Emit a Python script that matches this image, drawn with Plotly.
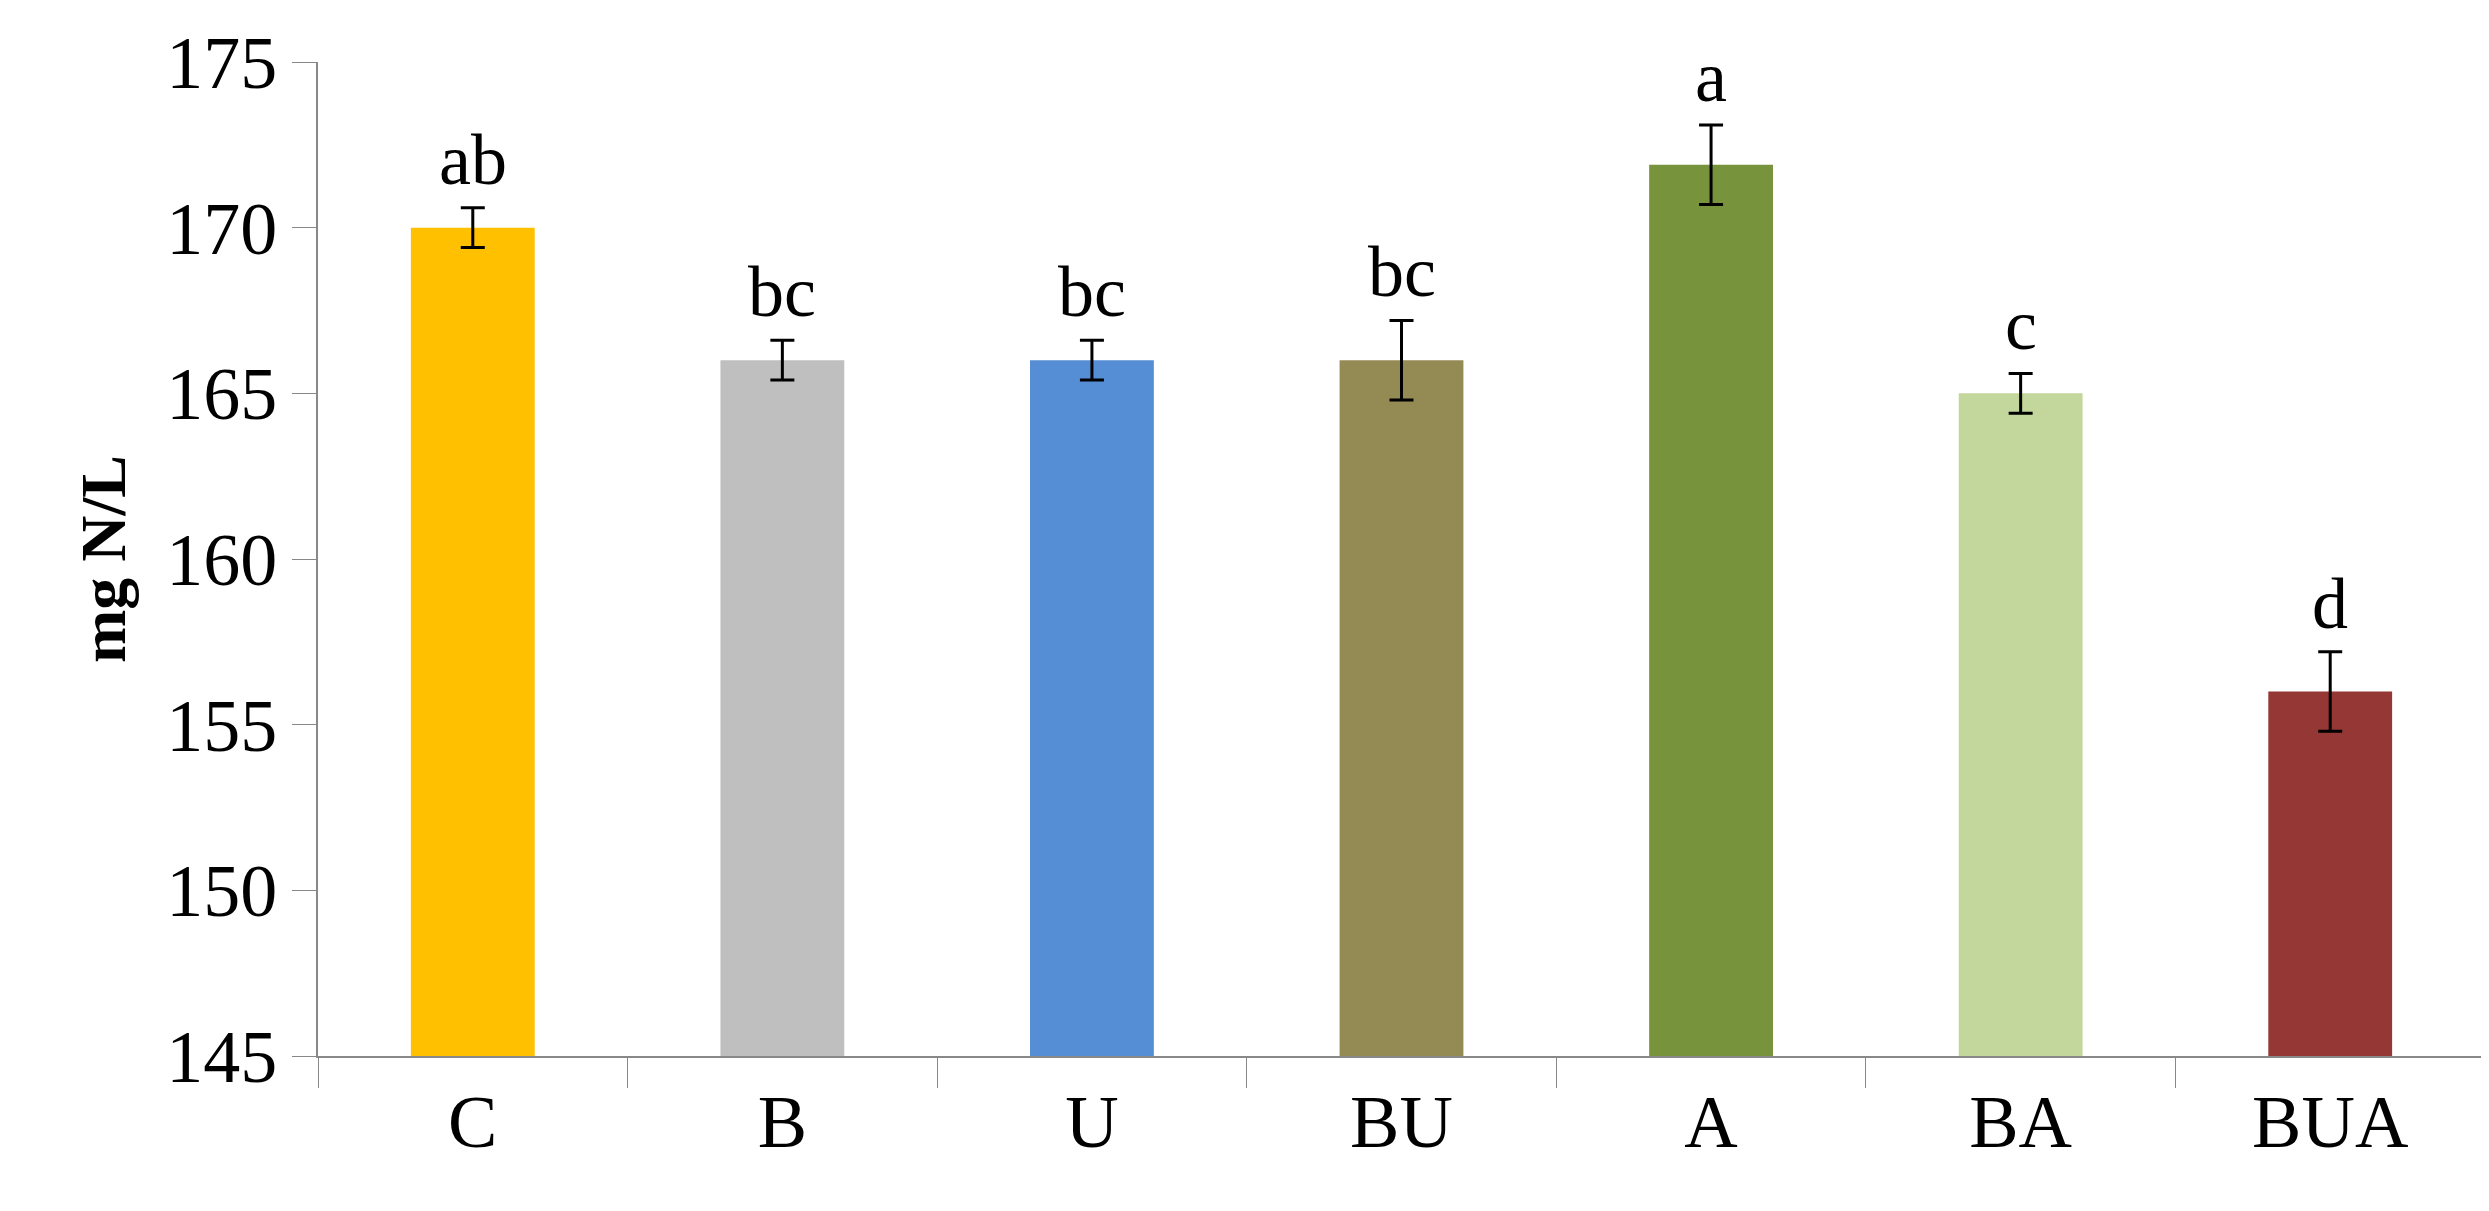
import plotly.graph_objects as go

categories = ["C", "B", "U", "BU", "A", "BA", "BUA"]
values = [170.0, 166.0, 166.0, 166.0, 171.9, 165.0, 156.0]
errors = [0.6, 0.6, 0.6, 1.2, 1.2, 0.6, 1.2]
letters = ["ab", "bc", "bc", "bc", "a", "c", "d"]
colors = ["#FFC000", "#BFBFBF", "#558ED5", "#948A54", "#77933C", "#C3D69B", "#953735"]

FONT = "Liberation Serif"

fig = go.Figure(go.Bar(
    x=categories, y=values, base=0,
    marker=dict(color=colors, line=dict(width=0)),
    width=0.4,
    error_y=dict(type="data", array=errors, color="black", thickness=3, width=12),
))

for c, v, e, t in zip(categories, values, errors, letters):
    fig.add_annotation(x=c, y=v + e, text=t, showarrow=False, yanchor="bottom",
                       yshift=6, font=dict(family=FONT, size=72, color="black"))

fig.update_layout(
    width=2489, height=1211,
    plot_bgcolor="white", paper_bgcolor="white",
    margin=dict(l=310, r=12, t=54, b=163),
    showlegend=False,
    xaxis=dict(showline=True, linecolor="#888888", linewidth=2,
               ticks="outside", tickson="boundaries", ticklen=30, tickcolor="#888888",
               tickfont=dict(family=FONT, size=74, color="black")),
    yaxis=dict(range=[145, 175], dtick=5, showline=True, linecolor="#888888", linewidth=2,
               ticks="outside", ticklen=24, tickcolor="#888888", showgrid=False,
               tickfont=dict(family=FONT, size=74, color="black"),
               title=dict(text="<b>mg N/L</b>", font=dict(family=FONT, size=64, color="black"),
                          standoff=20)),
)

fig.write_html("out.html")
